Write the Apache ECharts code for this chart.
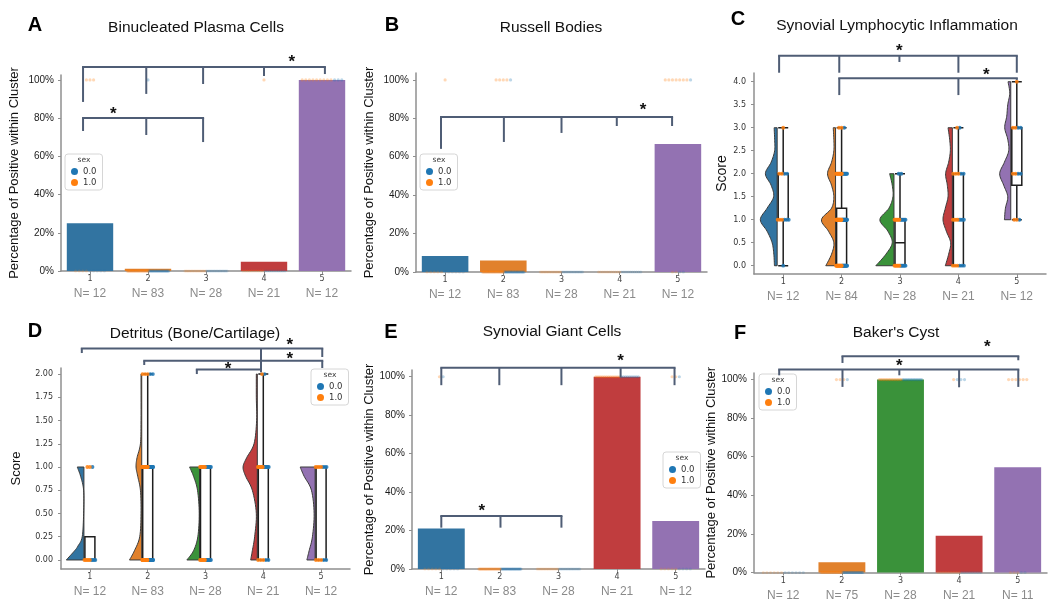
<!DOCTYPE html>
<html><head><meta charset="utf-8">
<script src="https://cdn.jsdelivr.net/npm/echarts/dist/echarts.min.js"></script>
<style>html,body{margin:0;padding:0;background:#fff}#c{width:1054px;height:614px}</style>
</head><body><div id="c"></div>
<script>
// ---------------- DATA ----------------
const clusters = ['1', '2', '3', '4', '5'];
const nLabelsA = ['N= 12', 'N= 83', 'N= 28', 'N= 21', 'N= 12'];
const nLabelsB = ['N= 12', 'N= 83', 'N= 28', 'N= 21', 'N= 12'];
const nLabelsC = ['N= 12', 'N= 84', 'N= 28', 'N= 21', 'N= 12'];
const nLabelsD = ['N= 12', 'N= 83', 'N= 28', 'N= 21', 'N= 12'];
const nLabelsE = ['N= 12', 'N= 83', 'N= 28', 'N= 21', 'N= 12'];
const nLabelsF = ['N= 12', 'N= 75', 'N= 28', 'N= 21', 'N= 11'];

const titles = ['Binucleated Plasma Cells', 'Russell Bodies', 'Synovial Lymphocytic Inflammation',
                'Detritus (Bone/Cartilage)', 'Synovial Giant Cells', "Baker's Cyst"];
const letters = ['A', 'B', 'C', 'D', 'E', 'F'];
const pctAxisName = 'Percentage of Positive within Cluster';
const scoreAxisName = 'Score';
const legendTitle = 'sex';
const sexNames = ['0.0', '1.0'];

const pctTicks = [0, 20, 40, 60, 80, 100];
const scoreTicksC = [0, 0.5, 1, 1.5, 2, 2.5, 3, 3.5, 4];
const scoreTicksD = [0, 0.25, 0.5, 0.75, 1, 1.25, 1.5, 1.75, 2];

// bar heights (% positive within cluster)
const pctA = [25, 1.2, 0, 4.8, 100];
const pctB = [8.3, 6.0, 0, 0, 66.7];
const pctE = [21, 0, 0, 100, 25];
const pctF = [0, 5.3, 100, 19, 54.5];

// box stats [min, Q1, median, Q3, max]
const boxC = [[0, 1, 1, 2, 3], [0, 0, 1, 1.25, 3], [0, 0, 0.5, 1, 2], [0, 0, 1, 2, 3], [1, 1.75, 2, 3, 4]];
const boxD = [[0, 0, 0, 0.25, 0.25], [0, 0, 0, 1, 2], [0, 0, 0, 1, 1], [0, 0, 1, 1, 2], [0, 0, 0, 1, 1]];

// half-violin densities [score, relative half width]
const violinC = [
  [[0, 2.7], [0.25, 3.3], [0.5, 5], [0.75, 10], [1, 16.7], [1.25, 10], [1.5, 3.5], [1.75, 6], [2, 11.7], [2.25, 6], [2.5, 2.5], [2.75, 2.5], [3, 3]],
  [[0, 9.7], [0.25, 4], [0.5, 1.7], [0.75, 7], [1, 14], [1.25, 4], [1.5, 1.7], [1.75, 4], [2, 8], [2.25, 4], [2.5, 1.7], [2.75, 1.7], [3, 2.3]],
  [[0, 18], [0.25, 8], [0.5, 1.7], [0.75, 6], [1, 14], [1.25, 5], [1.5, 1], [1.75, 1.7], [2, 4.3]],
  [[0, 7], [0.25, 3.7], [0.5, 1.7], [0.75, 6], [1, 9.3], [1.25, 7], [1.5, 4.3], [1.75, 5], [2, 6.7], [2.25, 3.7], [2.5, 2], [2.75, 2.7], [3, 4.3]],
  [[1, 6.3], [1.25, 5.3], [1.5, 3], [1.75, 7], [2, 11], [2.25, 6.3], [2.5, 2], [2.75, 3], [3, 6], [3.25, 4], [3.5, 3], [3.75, 1], [4, 2.7]]
];
const violinD = [
  [[0, 17.7], [0.1, 9.3], [0.15, 6], [0.25, 1.7], [0.5, 0.3], [0.75, 0.3], [0.9, 3.3], [1, 6.7]],
  [[0, 12.3], [0.1, 7.3], [0.25, 2], [0.5, 0.7], [0.75, 1.3], [0.9, 4], [1, 5.7], [1.1, 4.7], [1.25, 1.3], [1.5, 0.7], [2, 0.7]],
  [[0, 12.7], [0.1, 6], [0.25, 1.7], [0.5, 0.3], [0.75, 2], [0.9, 6], [1, 10]],
  [[0, 6.7], [0.1, 5], [0.25, 2.7], [0.5, 1], [0.75, 5], [0.9, 11.7], [1, 14.3], [1.1, 10.7], [1.25, 3.3], [1.5, 0.7], [1.75, 1], [2, 1]],
  [[0, 8.3], [0.1, 6], [0.25, 2.7], [0.5, 1], [0.75, 3.7], [0.9, 11], [1, 15]]
];

// strip points: [cluster index, value, count sex 0.0, count sex 1.0]
const stripA = [[0, 100, 0, 3], [1, 100, 1, 0], [3, 100, 0, 1], [4, 100, 3, 9],
                [0, 0, 5, 4], [1, 0, 40, 42], [2, 0, 14, 14], [3, 0, 10, 10]];
const stripB = [[0, 100, 0, 1], [1, 100, 1, 4], [4, 100, 1, 7],
                [0, 0, 6, 5], [1, 0, 38, 40], [2, 0, 14, 14], [3, 0, 10, 11], [4, 0, 2, 2]];
const stripE = [[0, 100, 1, 1], [3, 100, 9, 12], [4, 100, 1, 2],
                [0, 0, 5, 5], [1, 0, 40, 43], [2, 0, 14, 14], [4, 0, 4, 5]];
const stripF = [[1, 100, 1, 3], [2, 100, 13, 15], [3, 100, 3, 1], [4, 100, 0, 6],
                [0, 0, 6, 6], [1, 0, 35, 36], [3, 0, 8, 9], [4, 0, 2, 3]];
const stripC = [[0, 0, 1, 0], [0, 1, 3, 3], [0, 2, 2, 2], [0, 3, 0, 1],
                [1, 0, 14, 16], [1, 1, 16, 17], [1, 2, 8, 10], [1, 3, 1, 2],
                [2, 0, 7, 7], [2, 1, 6, 6], [2, 2, 2, 0],
                [3, 0, 3, 3], [3, 1, 4, 4], [3, 2, 2, 3], [3, 3, 1, 1],
                [4, 1, 1, 2], [4, 2, 2, 2], [4, 3, 2, 2], [4, 4, 0, 1]];
const stripD = [[0, 0, 4, 5], [0, 1, 1, 2],
                [1, 0, 20, 20], [1, 1, 18, 20], [1, 2, 2, 3],
                [2, 0, 7, 7], [2, 1, 7, 7],
                [3, 0, 2, 3], [3, 1, 7, 7], [3, 2, 1, 1],
                [4, 0, 2, 3], [4, 1, 3, 4]];

// significance brackets: level, drops [cluster position, drop end], star [cluster position, value]
const bracketsA = [
  { level: 106.8, drops: [[-0.12, 88.5], [0.97, 92.7], [1.95, 97.9], [3.0, 102.1], [4.05, 103.1]], star: [3.48, 111.5] },
  { level: 80.1, drops: [[-0.12, 73.3], [0.97, 71.2], [1.95, 67.5]], star: [0.4, 84.3] }
];
const bracketsB = [
  { level: 80.7, drops: [[-0.07, 64.1], [1.01, 67.7], [2.0, 72.4], [2.95, 76.0], [3.9, 76.0]], star: [3.4, 86.5] }
];
const bracketsC = [
  { level: 4.565, drops: [[-0.07, 4.196], [0.96, 4.196], [1.99, 4.43], [3.0, 4.196], [4.0, 4.196]], star: [1.99, 4.74] },
  { level: 4.074, drops: [[0.96, 3.71], [3.0, 3.71], [4.0, 4.04]], star: [3.48, 4.23] }
];
const bracketsD = [
  { level: 2.276, drops: [[-0.14, 2.226], [2.96, 2.02], [4.02, 2.183]], star: [3.46, 2.347] },
  { level: 2.143, drops: [[0.94, 2.097], [4.02, 2.065]], star: [3.46, 2.204] },
  { level: 2.05, drops: [[1.85, 2.0], [2.96, 2.02]], star: [2.39, 2.097] }
];
const bracketsE = [
  { level: 104.7, drops: [[0, 95.6], [0.99, 95.6], [2.05, 95.6], [3.06, 99.6], [3.98, 95.6]], star: [3.06, 110.2] },
  { level: 27.6, drops: [[0, 21.5], [1.01, 21.5], [2.05, 21.5]], star: [0.69, 32.2] }
];
const bracketsF = [
  { level: 112.1, drops: [[1.01, 108.6], [4.01, 110.0]], star: [3.48, 118.8] },
  { level: 105.2, drops: [[-0.07, 102.2], [1.01, 96.2], [1.98, 102.2], [3.0, 96.0], [4.01, 96.2]], star: [1.98, 109.1] }
];

// ---------------- STYLE / LAYOUT ----------------
const palette = ['#3274a1', '#e1812c', '#3a923a', '#c03d3e', '#9372b2'];
const sexColors = ['#1f77b4', '#ff7f0e'];
const axisGray = '#8f8f8f';
const FONT = 'Liberation Sans, Arial, sans-serif';

const grids = [
  { left: 61, top: 75, width: 290, height: 196 },
  { left: 416, top: 73, width: 291, height: 199 },
  { left: 754, top: 73, width: 292, height: 201 },
  { left: 61, top: 368, width: 289, height: 201 },
  { left: 412, top: 370, width: 293, height: 199 },
  { left: 754, top: 373, width: 293, height: 199.5 }
];
const yRange = [[0, 102.6], [0, 103.6], [-0.18, 4.19], [-0.097, 2.065], [0, 103.5], [0, 103.4]];
const nameGaps = [40, 40, 23.5, 38.5, 36, 32];
const nLabelSets = [nLabelsA, nLabelsB, nLabelsC, nLabelsD, nLabelsE, nLabelsF];
const letterPos = [[35, 25], [392, 25], [738, 19], [35, 331], [391, 332], [740, 333]];
const titlePos = [[196, 28], [551, 28], [897, 26], [195, 334], [552, 332], [896, 333]];
const legendPos = [[65, 154], [420, 154], null, [311, 369], [663, 452], [759, 374]];

function xAt(api, fx, y) {
  const a = api.coord([0, y]);
  const b = api.coord([1, y]);
  return a[0] + fx * (b[0] - a[0]);
}

function catmull(pts) {
  const out = [];
  const n = pts.length;
  for (let j = 0; j < n - 1; j++) {
    const p0 = pts[Math.max(j - 1, 0)], p1 = pts[j], p2 = pts[j + 1], p3 = pts[Math.min(j + 2, n - 1)];
    for (let t = 0; t < 8; t++) {
      const s = t / 8, s2 = s * s, s3 = s2 * s;
      const f = (k) => 0.5 * ((2 * p1[k]) + (-p0[k] + p2[k]) * s + (2 * p0[k] - 5 * p1[k] + 4 * p2[k] - p3[k]) * s2 + (-p0[k] + 3 * p1[k] - 3 * p2[k] + p3[k]) * s3);
      out.push([f(0), f(1)]);
    }
  }
  out.push(pts[n - 1]);
  return out;
}

function stripPoints(list, sex) {
  const out = [];
  list.forEach(([c, v, n0, n1]) => {
    const n = n0 + n1;
    if (sex === 1) { for (let k = 0; k < n1; k++) out.push([c, v, k, n]); }
    else { for (let k = 0; k < n0; k++) out.push([c, v, n1 + k, n]); }
  });
  return out;
}

function dotSeries(idx, list, sex, opt) {
  const color = sexColors[sex];
  return {
    type: 'custom', name: sexNames[sex], xAxisIndex: idx, yAxisIndex: idx, z: opt.z, silent: true,
    itemStyle: { color: color },
    data: stripPoints(list, sex),
    renderItem(params, api) {
      const c = api.value(0), v = api.value(1), k = api.value(2), n = api.value(3);
      const p = api.coord([c, v]);
      const band = api.size([1, 0])[0] / 58;
      const sp = Math.min(opt.maxSp, opt.spread / Math.max(n - 1, 1)) * band;
      const x = p[0] + (k - (n - 1) / 2) * sp;
      const op = v === 0 ? opt.op0 : opt.op;
      return { type: 'circle', shape: { cx: x, cy: p[1], r: opt.r }, style: { fill: color, opacity: op } };
    }
  };
}

function bracketSeries(idx, list) {
  return {
    type: 'custom', xAxisIndex: idx, yAxisIndex: idx, z: 8, silent: true,
    data: list.map(b => [0, b.level]),
    renderItem(params, api) {
      const b = list[params.dataIndex];
      const yL = api.coord([0, b.level])[1];
      const xs = b.drops.map(d => xAt(api, d[0], b.level));
      const st = { stroke: '#4f5d75', lineWidth: 2 };
      const ch = [{ type: 'line', shape: { x1: xs[0] - 1, y1: yL, x2: xs[xs.length - 1] + 1, y2: yL }, style: st }];
      b.drops.forEach((d, k) => ch.push({ type: 'line', shape: { x1: xs[k], y1: yL, x2: xs[k], y2: api.coord([0, d[1]])[1] }, style: st }));
      const sy = api.coord([0, b.star[1]])[1];
      ch.push({ type: 'text', x: xAt(api, b.star[0], b.star[1]), y: sy + 4,
        style: { text: '*', fill: '#111', fontSize: 17, fontWeight: 'bold', fontFamily: FONT, align: 'center', verticalAlign: 'middle' } });
      return { type: 'group', children: ch };
    }
  };
}

function violinSeries(idx, list) {
  return {
    type: 'custom', xAxisIndex: idx, yAxisIndex: idx, z: 2, silent: true,
    data: list.map((d, i) => [i, d[0][0]]),
    renderItem(params, api) {
      const i = params.dataIndex;
      const dens = list[i];
      const k = api.size([1, 0])[0] / 58;
      const cx = api.coord([i, 0])[0];
      const flat = cx - 6 * k;
      const pts = dens.map(([v, w]) => [flat - w * k, api.coord([i, v])[1]]);
      const curve = catmull(pts).map(p => [Math.min(p[0], flat), p[1]]);
      const poly = [[flat, pts[0][1]]].concat(curve, [[flat, pts[pts.length - 1][1]]]);
      return { type: 'polygon', shape: { points: poly }, style: { fill: palette[i], stroke: '#3a3a3a', lineWidth: 1 } };
    }
  };
}

function barSeries(idx, values) {
  return {
    type: 'bar', xAxisIndex: idx, yAxisIndex: idx, z: 2, silent: true, barWidth: '80%',
    data: values.map((v, i) => ({ value: v, itemStyle: { color: palette[i] } }))
  };
}

function boxSeries(idx, stats) {
  return {
    type: 'boxplot', xAxisIndex: idx, yAxisIndex: idx, z: 3, silent: true, boxWidth: [10, 10],
    data: stats,
    itemStyle: { color: '#ffffff', borderColor: '#1e1e1e', borderWidth: 1.5 }
  };
}

// ---------------- AXES ----------------
const xAxes = grids.map((g, i) => ({
  gridIndex: i, type: 'category', data: clusters,
  axisLine: { onZero: false, lineStyle: { color: axisGray, width: 1.5 } },
  axisTick: { show: true, alignWithLabel: true, length: 3, lineStyle: { color: axisGray } },
  axisLabel: {
    margin: 3, interval: 0, hideOverlap: false,
    formatter: (value, index) => '{t|' + value + '}\n{n|' + nLabelSets[i][index] + '}',
    rich: {
      t: { fontSize: 8, color: '#444', fontFamily: 'DejaVu Sans', lineHeight: 10, align: 'center' },
      n: { fontSize: 12, color: '#8a8a8a', fontFamily: FONT, lineHeight: 20, align: 'center' }
    }
  },
  splitLine: { show: false }
}));

const yAxes = grids.map((g, i) => {
  const isScore = (i === 2 || i === 3);
  const ticks = i === 2 ? scoreTicksC : (i === 3 ? scoreTicksD : pctTicks);
  return {
    gridIndex: i, type: 'value', min: yRange[i][0], max: yRange[i][1],
    axisLine: { show: true, onZero: false, lineStyle: { color: axisGray, width: 1.5 } },
    axisTick: { show: true, length: 3, customValues: ticks, lineStyle: { color: axisGray } },
    axisLabel: isScore ? {
      customValues: ticks, margin: 8, fontSize: 8, color: '#333', fontFamily: 'DejaVu Sans',
      formatter: v => (i === 2 ? v.toFixed(1) : v.toFixed(2))
    } : {
      customValues: ticks, margin: 7, fontSize: 10, color: '#1a1a1a', fontFamily: FONT,
      formatter: v => v + '%'
    },
    splitLine: { show: false },
    name: isScore ? scoreAxisName : pctAxisName,
    nameLocation: 'middle', nameGap: nameGaps[i],
    nameTextStyle: { fontSize: isScore ? (i === 2 ? 14 : 13) : 13, color: '#111', fontFamily: FONT }
  };
});

// ---------------- SERIES ----------------
const barDot = { z: 4, r: 1.6, op: 0.3, op0: 0.18, maxSp: 3.6, spread: 42 };
const rainDot = { z: 5, r: 1.9, op: 0.85, op0: 0.85, maxSp: 2.6, spread: 11 };

const series = [];
[[0, pctA, stripA, bracketsA], [1, pctB, stripB, bracketsB], [4, pctE, stripE, bracketsE], [5, pctF, stripF, bracketsF]]
  .forEach(([idx, vals, strip, br]) => {
    series.push(barSeries(idx, vals));
    series.push(dotSeries(idx, strip, 0, barDot));
    series.push(dotSeries(idx, strip, 1, barDot));
    series.push(bracketSeries(idx, br));
  });
[[2, violinC, boxC, stripC, bracketsC], [3, violinD, boxD, stripD, bracketsD]]
  .forEach(([idx, vio, box, strip, br]) => {
    series.push(violinSeries(idx, vio));
    series.push(boxSeries(idx, box));
    series.push(dotSeries(idx, strip, 0, rainDot));
    series.push(dotSeries(idx, strip, 1, rainDot));
    series.push(bracketSeries(idx, br));
  });

// ---------------- LEGENDS / TEXT ----------------
const legends = [];
const graphics = [];
legendPos.forEach((p, i) => {
  if (!p) return;
  legends.push({
    left: p[0], top: p[1], orient: 'vertical', icon: 'circle', itemWidth: 7, itemHeight: 7, itemGap: 2,
    padding: [13, 6, 3, 6], backgroundColor: 'rgba(255,255,255,0.85)', borderColor: '#d6d6d6', borderWidth: 1,
    borderRadius: 3, selectedMode: false, data: sexNames,
    textStyle: { fontSize: 8.5, color: '#333', fontFamily: 'DejaVu Sans' }
  });
  graphics.push({ type: 'text', z: 100, x: p[0] + 19, y: p[1] + 6,
    style: { text: legendTitle, fill: '#444', fontSize: 7.5, fontFamily: 'DejaVu Sans', align: 'center', verticalAlign: 'middle', textAlign: 'center', textVerticalAlign: 'middle' } });
});
letters.forEach((l, i) => graphics.push({ type: 'text', z: 100, x: letterPos[i][0], y: letterPos[i][1],
  style: { text: l, fill: '#000', fontSize: 20, fontWeight: 'bold', fontFamily: FONT, align: 'center', verticalAlign: 'middle', textAlign: 'center', textVerticalAlign: 'middle' } }));
titles.forEach((t, i) => graphics.push({ type: 'text', z: 100, x: titlePos[i][0], y: titlePos[i][1],
  style: { text: t, fill: '#111', fontSize: 15.5, fontFamily: FONT, align: 'center', verticalAlign: 'middle', textAlign: 'center', textVerticalAlign: 'middle' } }));

const chart = echarts.init(document.getElementById('c'));
chart.setOption({
  backgroundColor: '#ffffff',
  animation: false,
  textStyle: { fontFamily: FONT },
  grid: grids,
  xAxis: xAxes,
  yAxis: yAxes,
  legend: legends,
  series: series,
  graphic: graphics
});
</script>
</body></html>
